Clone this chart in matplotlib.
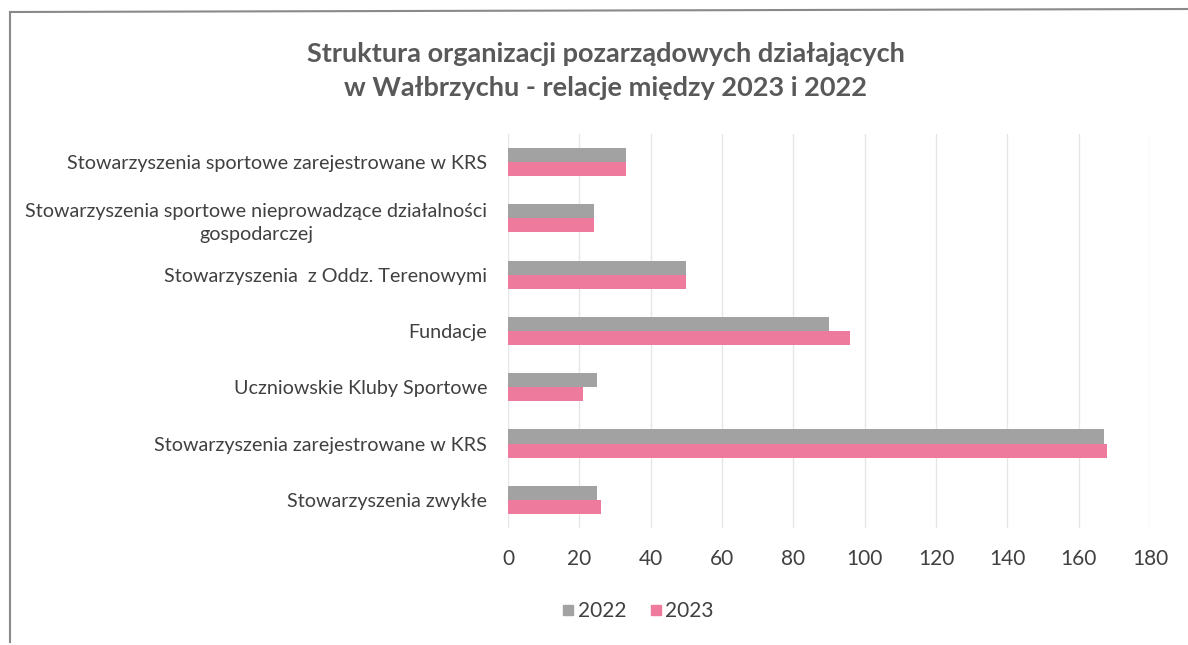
import matplotlib.pyplot as plt
import numpy as np
from matplotlib.lines import Line2D

plt.rcParams['font.family'] = ['Lato', 'DejaVu Sans']

# Data (top to bottom as shown)
categories = [
    'Stowarzyszenia sportowe zarejestrowane w KRS',
    'Stowarzyszenia sportowe nieprowadzące działalności\ngospodarczej',
    'Stowarzyszenia  z Oddz. Terenowymi',
    'Fundacje',
    'Uczniowskie Kluby Sportowe',
    'Stowarzyszenia zarejestrowane w KRS',
    'Stowarzyszenia zwykłe',
]
values_2022 = [33, 24, 50, 90, 25, 167, 25]
values_2023 = [33, 24, 50, 96, 21, 168, 26]
series_labels = ['2022', '2023']
x_ticks = [0, 20, 40, 60, 80, 100, 120, 140, 160, 180]

gray = '#a2a2a2'
pink = '#ee7b9d'
text_col = '#404040'

fig = plt.figure(figsize=(11.88, 6.45), dpi=100)
ax = fig.add_axes([0.4276, 0.1814, 0.5404, 0.6109])

y = np.arange(len(categories))
h = 0.25
ax.barh(y - h / 2, values_2022, height=h, color=gray, label=series_labels[0], zorder=3)
ax.barh(y + h / 2, values_2023, height=h, color=pink, label=series_labels[1], zorder=3)

ax.set_ylim(len(categories) - 0.5, -0.5)
ax.set_xlim(0, 180)
ax.set_xticks(x_ticks)
ax.set_yticks(y)
ax.set_yticklabels(categories, multialignment='center', linespacing=1.45)
ax.tick_params(axis='y', length=0, pad=15, labelsize=14.2, labelcolor=text_col)
ax.tick_params(axis='x', length=0, pad=15, labelsize=15, labelcolor=text_col)

ax.grid(axis='x', color='#e6e6e6', linewidth=1, zorder=0)
for s in ax.spines.values():
    s.set_visible(False)

fig.text(0.51, 0.89, 'Struktura organizacji pozarządowych działających\nw Wałbrzychu - relacje między 2023 i 2022',
         ha='center', va='center', fontsize=19.5, fontweight='bold', color='#595959',
         linespacing=1.5)

handles = [Line2D([], [], marker='s', linestyle='', color=gray, markersize=7),
           Line2D([], [], marker='s', linestyle='', color=pink, markersize=7)]
fig.legend(handles, series_labels, loc='center', bbox_to_anchor=(0.536, 0.053), ncol=2,
           frameon=False, fontsize=15, labelcolor=text_col, handletextpad=0.05,
           columnspacing=1.0, handlelength=0.8)

# outer frame of the scanned chart
fig.add_artist(Line2D([10 / 1188, 1.0], [1 - 12 / 645, 1 - 9 / 645], color='#8a8a8a', linewidth=1.5))
fig.add_artist(Line2D([10 / 1188, 10 / 1188], [1 - 12 / 645, 1 - 642 / 645], color='#8a8a8a', linewidth=1.5))

fig.savefig('out.png', dpi=100, facecolor='white')
